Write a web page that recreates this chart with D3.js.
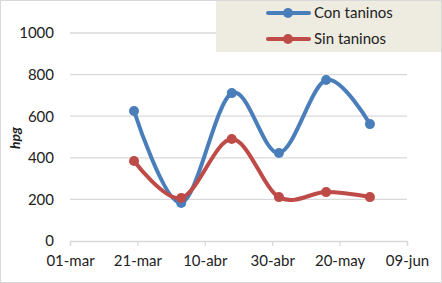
<!DOCTYPE html>
<html>
<head>
<meta charset="utf-8">
<script src="https://cdn.jsdelivr.net/npm/d3@7"></script>
<style>
  body { margin: 0; background: #fff; }
  text { font-family: Lato, "Open Sans", sans-serif; fill: #222; }
</style>
</head>
<body>
<script>
// sample dates and values (hpg)
const dates = ["2013-03-20", "2013-04-03", "2013-04-18", "2013-05-02", "2013-05-16", "2013-05-29"]
const conTaninos = [625, 183, 711, 423, 774, 562]
const sinTaninos = [385, 207, 490, 211, 235, 211]
const seriesNames = ["Con taninos", "Sin taninos"]
const tickDates = ["2013-03-01", "2013-03-21", "2013-04-10", "2013-04-30", "2013-05-20", "2013-06-09"]
const tickLabels = ["01-mar", "21-mar", "10-abr", "30-abr", "20-may", "09-jun"]
const yTicks = [0, 200, 400, 600, 800, 1000]

const W = 442, H = 283
const colors = ["#4A7EBB", "#BE4B48"]
const parse = d3.timeParse("%Y-%m-%d")

const svg = d3.select("body").append("svg")
    .attr("width", W)
    .attr("height", H)

// chart border
svg.append("rect")
    .attr("x", 0.5).attr("y", 0.5)
    .attr("width", W - 1).attr("height", H - 1)
    .attr("fill", "#fff")
    .attr("stroke", "#D9D9D9")

const x = d3.scaleTime()
    .domain([parse(tickDates[0]), parse(tickDates[tickDates.length - 1])])
    .range([70, 407])

const y = d3.scaleLinear()
    .domain([0, 1000])
    .range([241, 33])

// gridlines
svg.append("g")
    .selectAll("line")
    .data(yTicks.slice(1))
    .enter().append("line")
    .attr("x1", 70).attr("x2", 407)
    .attr("y1", d => y(d)).attr("y2", d => y(d))
    .attr("stroke", "#D9D9D9")
    .attr("stroke-width", 1.3)

// y axis
const yAxis = d3.axisLeft(y).tickValues(yTicks).tickFormat(d3.format("d")).tickSize(0).tickPadding(16)
svg.append("g")
    .attr("transform", "translate(70, 0)")
    .call(yAxis)
    .call(g => g.select(".domain").remove())
    .call(g => g.selectAll("text").style("font-size", "15px").style("font-family", "Lato, sans-serif").attr("fill", "#222"))

// x axis
const xAxis = d3.axisBottom(x)
    .tickValues(tickDates.map(parse))
    .tickFormat((d, i) => tickLabels[i])
    .tickSize(5)
    .tickPadding(9)
svg.append("g")
    .attr("transform", "translate(0, 241)")
    .call(xAxis)
    .call(g => g.select(".domain").attr("stroke", "#D9D9D9").attr("stroke-width", 1.3))
    .call(g => g.selectAll(".tick line").attr("stroke", "#D9D9D9").attr("stroke-width", 1.3))
    .call(g => g.selectAll("text").style("font-size", "15px").style("font-family", "Lato, sans-serif").attr("fill", "#222"))

// y label
svg.append("text")
    .attr("transform", "translate(20, 138) rotate(-90)")
    .attr("text-anchor", "middle")
    .style("font-size", "14px")
    .style("font-weight", "bold")
    .style("font-style", "italic")
    .text("hpg")

const line = d3.line()
    .x(d => x(d.date))
    .y(d => y(d.value))
    .curve(d3.curveCatmullRom.alpha(0))

const series = [conTaninos, sinTaninos].map((vals, k) => ({
    name: seriesNames[k],
    color: colors[k],
    points: vals.map((v, i) => ({ date: parse(dates[i]), value: v }))
}))

series.forEach(s => {
    svg.append("path")
        .datum(s.points)
        .attr("d", line)
        .attr("fill", "none")
        .attr("stroke", s.color)
        .attr("stroke-width", 4)
        .attr("stroke-linecap", "round")

    svg.append("g")
        .selectAll("circle")
        .data(s.points)
        .enter().append("circle")
        .attr("cx", d => x(d.date))
        .attr("cy", d => y(d.value))
        .attr("r", 5)
        .attr("fill", s.color)
})

// legend
const legend = svg.append("g")
legend.append("rect")
    .attr("x", 216).attr("y", 1)
    .attr("width", W - 217).attr("height", 51)
    .attr("fill", "#EEEBE0")

series.forEach((s, i) => {
    const ly = 13 + i * 26
    legend.append("line")
        .attr("x1", 268).attr("x2", 309)
        .attr("y1", ly).attr("y2", ly)
        .attr("stroke", s.color)
        .attr("stroke-width", 4)
        .attr("stroke-linecap", "round")
    legend.append("circle")
        .attr("cx", 288).attr("cy", ly)
        .attr("r", 5)
        .attr("fill", s.color)
    legend.append("text")
        .attr("x", 314).attr("y", ly + 5)
        .style("font-size", "15px")
        .text(s.name)
})
</script>
</body>
</html>
